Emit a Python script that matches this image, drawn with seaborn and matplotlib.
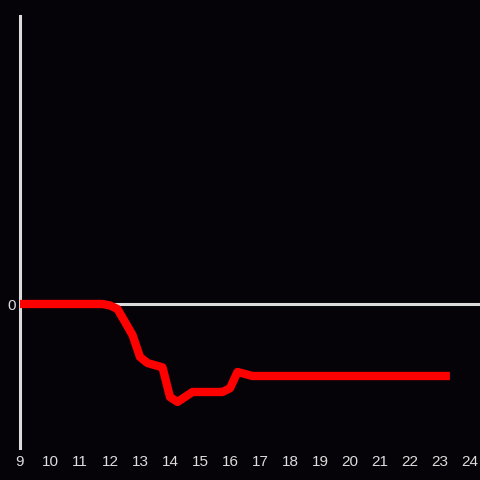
import matplotlib
matplotlib.use("Agg")
import matplotlib.pyplot as plt
import seaborn as sns
import pandas as pd

hours = [9.0, 11.75, 12.0, 12.25, 12.75, 13.0, 13.25, 13.75, 14.0, 14.25,
         14.75, 15.75, 16.0, 16.25, 16.75, 23.33]
values = [0.0, 0.0, -0.01, -0.035, -0.215, -0.368, -0.41, -0.44, -0.646, -0.68,
          -0.611, -0.611, -0.585, -0.472, -0.5, -0.5]
x_ticks = list(range(9, 25))
y_ticks = [0]

df = pd.DataFrame({"hour": hours, "value": values})

sns.set_theme(style="dark")
plt.rcParams['font.family'] = ['Liberation Sans', 'DejaVu Sans']

bg = "#050308"
fg = "#dcdcdc"
fig = plt.figure(figsize=(4.8, 4.8), dpi=100, facecolor=bg)
ax = fig.add_axes([20/480, 32/480, 460/480, 432/480])
ax.set_facecolor(bg)

ax.axhline(0, color=fg, lw=2.2, zorder=1)
sns.lineplot(data=df, x="hour", y="value", ax=ax, color="#ff0000", lw=6,
             solid_capstyle="butt", solid_joinstyle="round", zorder=3)

ax.set_xlim(9, 9 + 460/30)
ax.set_ylim(-1, 2)
ax.set_xticks(x_ticks)
ax.set_xticklabels([str(t) for t in x_ticks])
ax.set_yticks(y_ticks)
ax.set_yticklabels(["0"])
ax.tick_params(axis="both", colors=fg, labelcolor=fg, labelsize=11, length=0)
ax.tick_params(axis="x", pad=5)
ax.tick_params(axis="y", pad=3)
ax.set_xlabel("")
ax.set_ylabel("")
ax.grid(False)
for s in ["top", "right", "bottom"]:
    ax.spines[s].set_visible(False)
ax.spines["left"].set_color(fg)
ax.spines["left"].set_linewidth(2.2)
ax.spines["left"].set_visible(True)

fig.savefig("out.png", dpi=100, facecolor=bg)
